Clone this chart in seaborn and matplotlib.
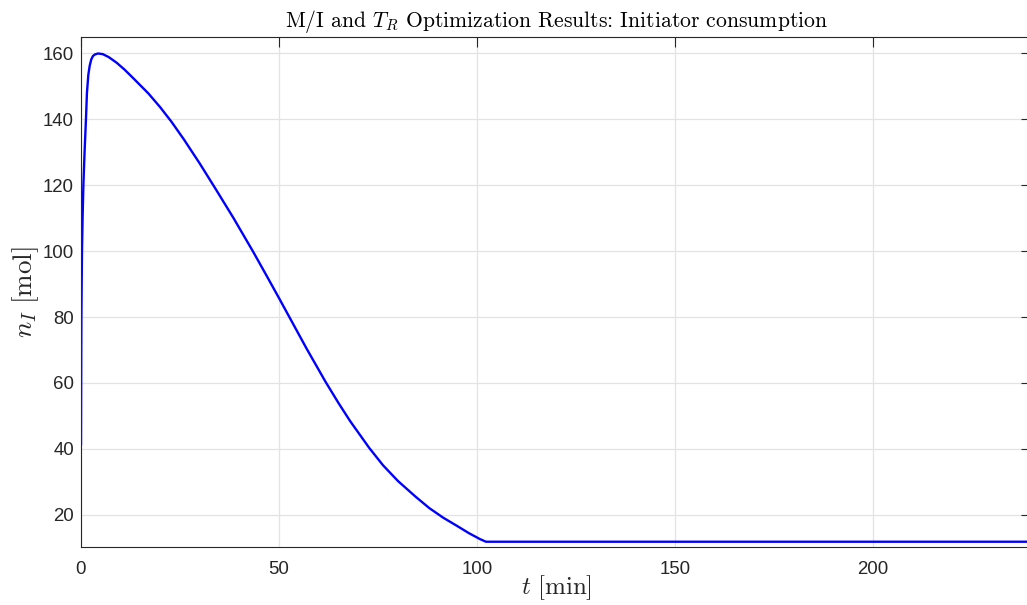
import matplotlib
matplotlib.use("Agg")
import matplotlib.pyplot as plt
import numpy as np
import pandas as pd
import seaborn as sns

# Initiator amount over time from the M/I and T_R optimization run
t_min = [0, 0.03, 0.06, 0.1, 0.17, 0.25, 0.4, 0.6, 0.9, 1.25, 1.5, 1.85,
         2.2, 2.6, 3.0, 3.5, 4.3, 5.5, 7, 9, 11, 13.2, 17, 20, 22.9, 26,
         30, 34, 38.5, 43.5, 47, 50, 53, 57, 61.8, 65, 68, 72.8, 76.3,
         80.1, 84.5, 88, 91.5, 95, 98, 100.8, 102.3, 240]
n_init = [41.1, 55, 68, 80, 90, 100, 110, 120, 130, 140, 148, 153.5,
          156.3, 158.2, 159.2, 159.7, 160.0, 159.8, 158.9, 157.2, 155.1,
          152.5, 147.9, 143.7, 139.2, 133.9, 126.6, 118.9, 110.1, 99.8,
          92.3, 85.8, 79.2, 70.4, 60.3, 54.0, 48.4, 40.3, 35.0, 30.2,
          25.5, 22.0, 19.1, 16.6, 14.4, 12.6, 11.8, 11.8]

x_ticks = [0, 50, 100, 150, 200]
y_ticks = [20, 40, 60, 80, 100, 120, 140, 160]

df = pd.DataFrame({"t": t_min, "n": n_init})

sns.set_theme(style="white")
plt.rcParams["mathtext.fontset"] = "cm"
plt.rcParams["font.family"] = ["Liberation Sans", "DejaVu Sans"]

axis_col = "#262626"
fig = plt.figure(figsize=(10.27, 6.05), dpi=100)
ax = fig.add_axes([81 / 1027, 1 - 547 / 605, 950 / 1027, 510 / 605])

sns.lineplot(data=df, x="t", y="n", ax=ax, color="#0000ff", linewidth=1.7,
             sort=False, estimator=None)

ax.set_xlim(0, 240)
ax.set_ylim(10.2, 165)
ax.set_xticks(x_ticks)
ax.set_yticks(y_ticks)
ax.grid(True, color="#e3e3e3", linewidth=0.9)
ax.set_axisbelow(True)

for side in ("left", "bottom", "top", "right"):
    ax.spines[side].set_visible(True)
    ax.spines[side].set_color(axis_col)
    ax.spines[side].set_linewidth(0.8)

ax.tick_params(axis="both", which="major", direction="in", length=7,
               width=0.8, color=axis_col, labelcolor=axis_col,
               labelsize=13.4, top=True, right=True)
ax.tick_params(axis="x", pad=10)
ax.tick_params(axis="y", pad=5)

ax.set_xlabel(r"$t\ [\mathrm{min}]$", fontsize=18, color=axis_col, labelpad=-3)
ax.set_ylabel(r"$n_I\ [\mathrm{mol}]$", fontsize=19.5, color=axis_col, labelpad=1)
ax.set_title(r"M/I and $T_R$ Optimization Results: Initiator consumption",
             fontsize=15.6, family="cmr10", color="black", pad=7)

fig.savefig("out.png", dpi=100)
